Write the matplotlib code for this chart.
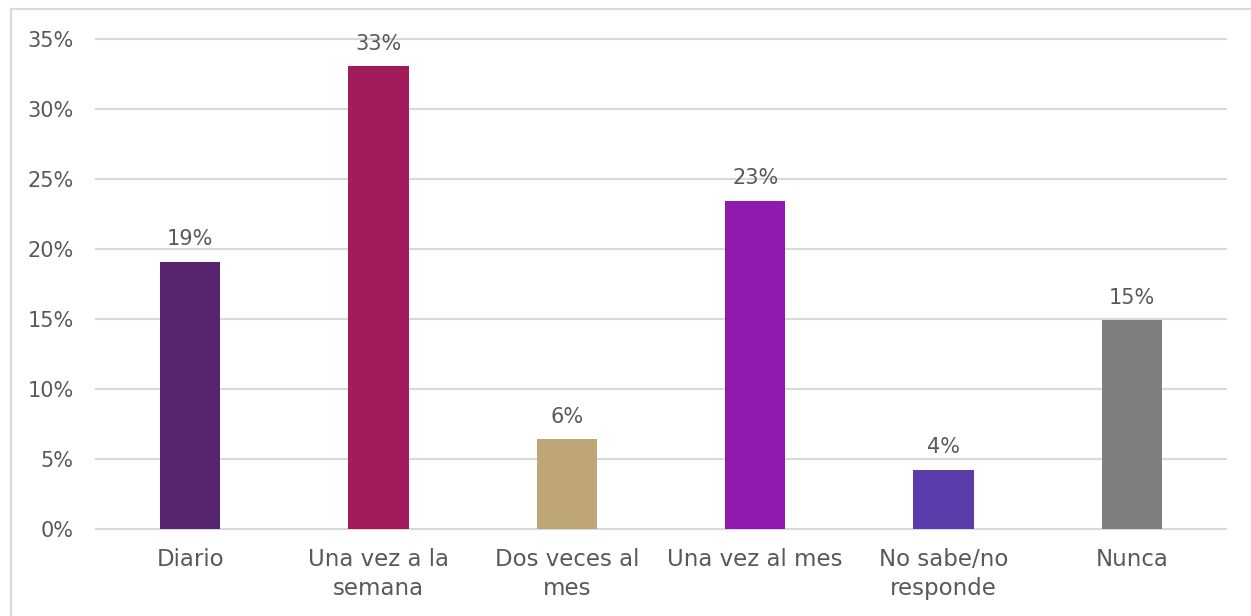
import matplotlib
matplotlib.use("Agg")
import matplotlib.pyplot as plt
from matplotlib.lines import Line2D

categories = ["Diario", "Una vez a la\nsemana", "Dos veces al\nmes", "Una vez al mes",
              "No sabe/no\nresponde", "Nunca"]
values = [19.1, 33.05, 6.4, 23.45, 4.25, 14.9]
labels = ["19%", "33%", "6%", "23%", "4%", "15%"]
colors = ["#56256E", "#A21B5A", "#BFA677", "#9019B0", "#5A3DAA", "#7F7F7F"]
yticks = [0, 5, 10, 15, 20, 25, 30, 35]
ytick_labels = ["0%", "5%", "10%", "15%", "20%", "25%", "30%", "35%"]

plt.rcParams['font.family'] = ['DejaVu Sans']
text_color = "#595959"

fig = plt.figure(figsize=(12.51, 6.16), dpi=100)
ax = fig.add_axes([96/1251, (616-529)/616, (1226-96)/1251, (529-39)/616])

x = list(range(len(categories)))
ax.bar(x, values, width=0.32, color=colors, zorder=3)
for xi, v, lab in zip(x, values, labels):
    ax.annotate(lab, (xi, v), xytext=(0, 9), textcoords="offset points",
                ha="center", va="bottom", fontsize=15, color=text_color, zorder=4)

ax.set_xlim(-0.5, len(categories) - 0.5)
ax.set_ylim(0, 35)
ax.set_yticks(yticks)
ax.set_yticklabels(ytick_labels)
ax.set_xticks(x)
ax.set_xticklabels(categories, linespacing=1.3)
ax.tick_params(axis="both", length=0, labelcolor=text_color)
ax.tick_params(axis="y", pad=16, labelsize=15)
ax.tick_params(axis="x", pad=14, labelsize=16.5)
ax.grid(axis="y", color="#D9D9D9", linewidth=1.5, zorder=0)
for gl in ax.get_ygridlines():
    gl.set_clip_on(False)
for s in ax.spines.values():
    s.set_visible(False)

# outer chart border (left and top)
fig.add_artist(Line2D([11/1251, 11/1251], [0, 1 - 9/616], transform=fig.transFigure,
                      color="#D9D9D9", linewidth=1.5))
fig.add_artist(Line2D([11/1251, 1], [1 - 9/616, 1 - 9/616], transform=fig.transFigure,
                      color="#D9D9D9", linewidth=1.5))

fig.savefig("out.png", dpi=100)
